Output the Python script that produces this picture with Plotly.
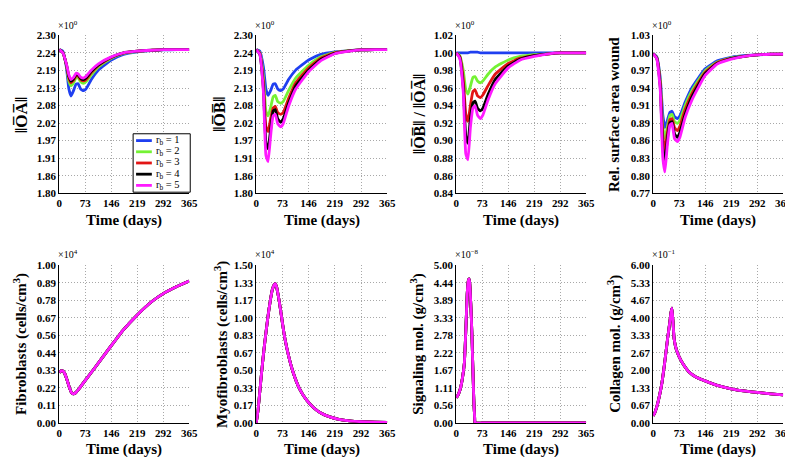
import plotly.graph_objects as go

W, H = 793, 457

# ---------------- data ----------------
rb_labels = ["r<sub>b</sub> = 1", "r<sub>b</sub> = 2", "r<sub>b</sub> = 3", "r<sub>b</sub> = 4", "r<sub>b</sub> = 5"]
rb_colors = ["#1f3ff0", "#74f234", "#e21515", "#000000", "#ff1aff"]

x_ticks = [0, 73, 146, 219, 292, 365]

t_top = [0, 10, 20, 27, 33, 40, 47, 53, 60, 68, 75, 90, 110, 146, 180, 219, 260, 292, 330, 365]

oa_r1 = [2.255, 2.250, 2.200, 2.130, 2.108, 2.125, 2.145, 2.147, 2.130, 2.125, 2.130, 2.160, 2.190, 2.222, 2.240, 2.248, 2.252, 2.254, 2.255, 2.255]
oa_r2 = [2.255, 2.247, 2.205, 2.155, 2.140, 2.150, 2.165, 2.166, 2.153, 2.148, 2.153, 2.175, 2.200, 2.228, 2.243, 2.249, 2.253, 2.255, 2.255, 2.255]
oa_r3 = [2.255, 2.246, 2.207, 2.165, 2.150, 2.158, 2.172, 2.172, 2.160, 2.156, 2.160, 2.182, 2.205, 2.230, 2.244, 2.250, 2.253, 2.255, 2.255, 2.255]
oa_r4 = [2.255, 2.246, 2.208, 2.170, 2.155, 2.162, 2.176, 2.175, 2.164, 2.160, 2.165, 2.186, 2.207, 2.231, 2.245, 2.250, 2.253, 2.255, 2.255, 2.255]
oa_r5 = [2.255, 2.245, 2.210, 2.175, 2.160, 2.167, 2.180, 2.178, 2.168, 2.165, 2.170, 2.190, 2.210, 2.232, 2.245, 2.250, 2.253, 2.255, 2.255, 2.255]

ob_r1 = [2.255, 2.250, 2.200, 2.130, 2.110, 2.125, 2.145, 2.147, 2.130, 2.125, 2.130, 2.160, 2.190, 2.222, 2.240, 2.248, 2.252, 2.254, 2.255, 2.255]
ob_r2 = [2.255, 2.245, 2.170, 2.060, 2.045, 2.070, 2.105, 2.110, 2.090, 2.085, 2.090, 2.125, 2.165, 2.205, 2.232, 2.246, 2.252, 2.254, 2.255, 2.255]
ob_r3 = [2.255, 2.243, 2.150, 2.010, 1.995, 2.035, 2.070, 2.075, 2.055, 2.050, 2.055, 2.100, 2.150, 2.197, 2.228, 2.245, 2.251, 2.254, 2.255, 2.255]
ob_r4 = [2.255, 2.240, 2.130, 1.960, 1.940, 2.000, 2.060, 2.065, 2.035, 2.025, 2.035, 2.085, 2.140, 2.190, 2.224, 2.243, 2.251, 2.254, 2.255, 2.255]
ob_r5 = [2.255, 2.240, 2.120, 1.920, 1.900, 1.980, 2.045, 2.050, 2.020, 2.010, 2.020, 2.075, 2.130, 2.185, 2.220, 2.242, 2.250, 2.254, 2.255, 2.255]

ratio_r1 = [1.000, 1.000, 1.000, 1.000, 1.000, 1.001, 1.001, 1.001, 1.001, 1.000, 1.000, 1.000, 1.000, 1.000, 1.000, 1.000, 1.000, 1.000, 1.000, 1.000]
ratio_r2 = [1.000, 0.997, 0.980, 0.958, 0.953, 0.962, 0.972, 0.973, 0.968, 0.966, 0.968, 0.976, 0.984, 0.992, 0.996, 0.998, 0.999, 1.000, 1.000, 1.000]
ratio_r3 = [1.000, 0.996, 0.970, 0.930, 0.922, 0.940, 0.956, 0.958, 0.951, 0.949, 0.952, 0.963, 0.976, 0.988, 0.994, 0.997, 0.999, 1.000, 1.000, 1.000]
ratio_r4 = [1.000, 0.995, 0.960, 0.905, 0.897, 0.925, 0.943, 0.945, 0.937, 0.934, 0.937, 0.953, 0.970, 0.985, 0.993, 0.997, 0.999, 1.000, 1.000, 1.000]
ratio_r5 = [1.000, 0.994, 0.955, 0.885, 0.878, 0.915, 0.937, 0.940, 0.929, 0.925, 0.929, 0.947, 0.965, 0.983, 0.992, 0.996, 0.999, 1.000, 1.000, 1.000]

area_r1 = [1.000, 0.995, 0.960, 0.900, 0.878, 0.890, 0.903, 0.905, 0.896, 0.893, 0.897, 0.920, 0.945, 0.975, 0.988, 0.994, 0.997, 0.998, 0.999, 0.999]
area_r2 = [1.000, 0.994, 0.955, 0.880, 0.860, 0.880, 0.898, 0.900, 0.888, 0.885, 0.890, 0.915, 0.940, 0.972, 0.986, 0.993, 0.996, 0.998, 0.999, 0.999]
area_r3 = [1.000, 0.993, 0.950, 0.865, 0.840, 0.870, 0.891, 0.893, 0.878, 0.873, 0.880, 0.908, 0.935, 0.969, 0.985, 0.992, 0.996, 0.998, 0.999, 0.999]
area_r4 = [1.000, 0.993, 0.945, 0.845, 0.820, 0.860, 0.886, 0.888, 0.868, 0.862, 0.870, 0.900, 0.930, 0.967, 0.984, 0.992, 0.996, 0.998, 0.999, 0.999]
area_r5 = [1.000, 0.992, 0.940, 0.830, 0.805, 0.850, 0.882, 0.885, 0.860, 0.855, 0.862, 0.895, 0.925, 0.964, 0.983, 0.991, 0.996, 0.998, 0.999, 0.999]

t_fib = [0, 5, 10, 15, 20, 25, 30, 35, 40, 45, 55, 73, 100, 146, 180, 219, 260, 292, 330, 365]
fib = [0.320, 0.330, 0.330, 0.315, 0.285, 0.250, 0.215, 0.190, 0.185, 0.190, 0.215, 0.270, 0.350, 0.490, 0.590, 0.685, 0.770, 0.820, 0.865, 0.900]

t_myo = [0, 5, 10, 15, 20, 25, 30, 35, 40, 45, 50, 53, 57, 62, 68, 73, 80, 90, 102, 120, 140, 160, 180, 203, 230, 260, 292, 330, 365]
myo = [0.0, 0.12, 0.30, 0.48, 0.65, 0.80, 0.94, 1.07, 1.18, 1.27, 1.315, 1.325, 1.29, 1.20, 1.07, 0.95, 0.80, 0.64, 0.49, 0.33, 0.22, 0.145, 0.095, 0.06, 0.035, 0.02, 0.012, 0.007, 0.005]

t_sig = [0, 5, 10, 14, 18, 23, 27, 31, 34, 36, 38, 41, 44, 46, 48, 50, 52, 53, 73, 146, 219, 292, 365]
sig = [0.80, 0.88, 1.02, 1.20, 1.45, 1.90, 2.90, 4.10, 4.50, 4.57, 4.45, 3.80, 2.90, 2.10, 1.30, 0.60, 0.15, 0.0, 0.0, 0.0, 0.0, 0.0, 0.0]

t_col = [0, 5, 10, 18, 25, 32, 41, 47, 50, 53, 56, 59, 65, 73, 85, 100, 120, 146, 180, 219, 260, 292, 330, 365]
col = [0.27, 0.40, 0.60, 1.05, 1.55, 2.25, 3.25, 3.85, 4.19, 4.37, 3.80, 3.20, 2.80, 2.52, 2.22, 1.95, 1.75, 1.60, 1.43, 1.30, 1.21, 1.16, 1.11, 1.07]

# y tick labels per panel
yt_oa = ["1.80", "1.86", "1.91", "1.97", "2.02", "2.08", "2.13", "2.19", "2.24", "2.30"]
yt_ob = ["1.80", "1.86", "1.91", "1.97", "2.02", "2.08", "2.13", "2.19", "2.24", "2.30"]
yt_ratio = ["0.84", "0.86", "0.88", "0.90", "0.92", "0.94", "0.96", "0.98", "1.00", "1.02"]
yt_area = ["0.77", "0.80", "0.83", "0.86", "0.89", "0.91", "0.94", "0.97", "1.00", "1.03"]
yt_fib = ["0.00", "0.11", "0.22", "0.33", "0.44", "0.56", "0.67", "0.78", "0.89", "1.00"]
yt_myo = ["0.00", "0.17", "0.33", "0.50", "0.67", "0.83", "1.00", "1.17", "1.33", "1.50"]
yt_sig = ["0.00", "0.56", "1.11", "1.67", "2.22", "2.78", "3.33", "3.89", "4.44", "5.00"]
yt_col = ["0.00", "0.67", "1.33", "2.00", "2.67", "3.33", "4.00", "4.67", "5.33", "6.00"]

y_ranges = [(1.80, 2.30), (1.80, 2.30), (0.84, 1.02), (0.77, 1.03),
            (0.0, 1.0), (0.0, 1.5), (0.0, 5.0), (0.0, 6.0)]
y_ticktexts = [yt_oa, yt_ob, yt_ratio, yt_area, yt_fib, yt_myo, yt_sig, yt_col]
exponents = ["0", "0", "0", "0", "4", "4", "−8", "−1"]
y_titles = ["‖O\u0305A\u0305‖", "‖O\u0305B\u0305‖", "‖O\u0305B\u0305‖ / ‖O\u0305A\u0305‖", "Rel. surface area wound",
            "Fibroblasts (cells/cm<sup>3</sup>)", "Myofibroblasts (cells/cm<sup>3</sup>)",
            "Signaling mol. (g/cm<sup>3</sup>)", "Collagen mol. (g/cm<sup>3</sup>)"]
y_title_sizes = [17, 17, 16, 15, 15, 15, 15, 15]

top_series = [
    [oa_r1, oa_r2, oa_r3, oa_r4, oa_r5],
    [ob_r1, ob_r2, ob_r3, ob_r4, ob_r5],
    [ratio_r1, ratio_r2, ratio_r3, ratio_r4, ratio_r5],
    [area_r1, area_r2, area_r3, area_r4, area_r5],
]
bottom_series = [(t_fib, fib), (t_myo, myo), (t_sig, sig), (t_col, col)]

# ---------------- layout geometry ----------------
x_px = [(49, 181), (249, 382), (452, 584), (652, 784)]
y_px = [(22, 184), (258, 420)]
ytitle_x = [10, 212, 414, 613, 9, 213, 412, 612]

FONT = "Liberation Serif"
fig = go.Figure()

for p in range(8):
    row, colm = divmod(p, 4)
    ax = "" if p == 0 else str(p + 1)
    xref, yref = "x" + ax, "y" + ax
    if row == 0:
        for i in range(5):
            fig.add_trace(go.Scatter(
                x=t_top, y=top_series[colm][i], mode="lines",
                line=dict(color=rb_colors[i], width=2.8, shape="spline", smoothing=0.4),
                name=rb_labels[i], legendgroup=str(i), showlegend=False,
                xaxis=xref, yaxis=yref))
    else:
        tt, vv = bottom_series[colm]
        for i in range(5):
            fig.add_trace(go.Scatter(
                x=tt, y=vv, mode="lines",
                line=dict(color=rb_colors[i], width=2.8, shape="spline", smoothing=0.4),
                name=rb_labels[i], legendgroup=str(i), showlegend=False,
                xaxis=xref, yaxis=yref))

    x0, x1 = x_px[colm]
    yt, yb = y_px[row]
    lo, hi = y_ranges[p]
    yvals = [lo + (hi - lo) * k / 9 for k in range(10)]
    axis_common = dict(showgrid=True, gridcolor="#a8a8a8", griddash="1px,2px", gridwidth=1,
                       showline=True, linecolor="black", linewidth=1, zeroline=False,
                       ticks="", tickfont=dict(family=FONT, size=11, color="black", weight="bold"))
    fig.layout["xaxis" + ax] = dict(domain=[x0 / W, x1 / W], range=[0, 365], anchor=yref,
                                    tickvals=x_ticks, ticktext=[str(v) for v in x_ticks], **axis_common)
    fig.layout["yaxis" + ax] = dict(domain=[1 - yb / H, 1 - yt / H], range=[lo, hi], anchor=xref,
                                    tickvals=yvals, ticktext=y_ticktexts[p], **axis_common)

    fig.add_annotation(xref="paper", yref="paper", x=(x0 - 3) / W, y=1 - (yt - 3) / H,
                       xanchor="left", yanchor="bottom", showarrow=False,
                       text="×10<sup>" + exponents[p] + "</sup>",
                       font=dict(family=FONT, size=10, color="black"))
    fig.add_annotation(xref="paper", yref="paper", x=(x0 + x1) / 2 / W,
                       y=1 - (212 if row == 0 else 447) / H, xanchor="center", yanchor="middle",
                       showarrow=False, text="<b>Time (days)</b>",
                       font=dict(family=FONT, size=15, color="black"))
    fig.add_annotation(xref="paper", yref="paper", x=ytitle_x[p] / W,
                       y=1 - (yt + yb) / 2 / H, xanchor="center", yanchor="middle",
                       textangle=-90, showarrow=False, text="<b>" + y_titles[p] + "</b>",
                       font=dict(family=FONT, size=y_title_sizes[p], color="black"))

# ---------------- legend (panel 1, lower right) ----------------
lg_x0, lg_x1, lg_y0, lg_y1 = 124, 182, 123, 183
fig.add_shape(type="rect", xref="paper", yref="paper",
              x0=lg_x0 / W, x1=lg_x1 / W, y0=1 - lg_y1 / H, y1=1 - lg_y0 / H,
              line=dict(color="black", width=1), fillcolor="white", layer="above")
for i in range(5):
    yy = 1 - (130 + i * 11.5) / H
    fig.add_shape(type="line", xref="paper", yref="paper",
                  x0=127 / W, x1=143 / W, y0=yy, y1=yy,
                  line=dict(color=rb_colors[i], width=2.8), layer="above")
    fig.add_annotation(xref="paper", yref="paper", x=145 / W, y=yy,
                       xanchor="left", yanchor="middle", showarrow=False,
                       text=rb_labels[i], font=dict(family=FONT, size=10.5, color="black"))

fig.update_layout(
    width=W, height=H, margin=dict(l=0, r=0, t=0, b=0),
    paper_bgcolor="white", plot_bgcolor="white",
    font=dict(family=FONT, color="black"),
    showlegend=False,
)

fig.write_html("out.html")
